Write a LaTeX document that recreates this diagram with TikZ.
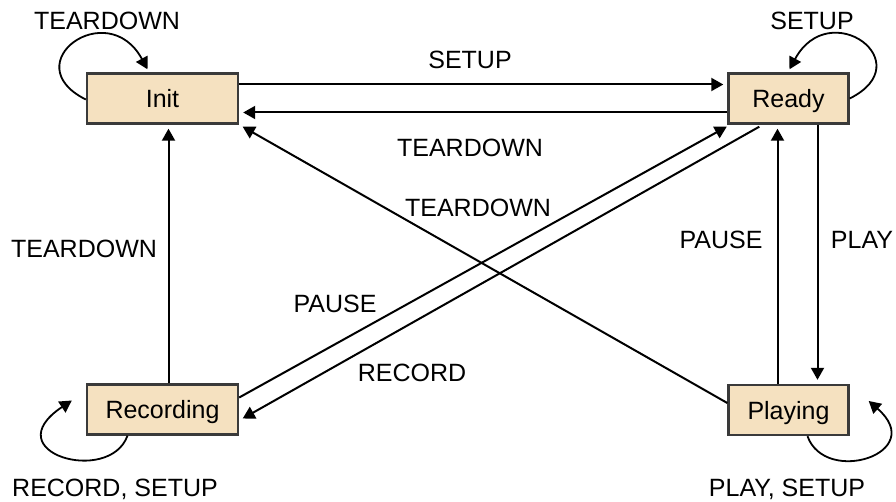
\documentclass[tikz,border=0pt]{standalone}
\usepackage{fontspec}
\setmainfont{Liberation Sans}
\usetikzlibrary{arrows.meta,calc}
\definecolor{boxfill}{HTML}{F5E1C0}
\definecolor{boxdraw}{HTML}{3A3A3A}
\begin{document}
\begin{tikzpicture}[x=0.5pt,y=-0.5pt,
  font=\fontsize{12.5}{14}\selectfont,
  state/.style={draw=boxdraw,fill=boxfill,line width=1.2pt,minimum height=25pt,inner sep=0pt,text depth=0pt,yshift=-1pt},
  wide/.style={state,minimum width=75.5pt},
  narrow/.style={state,minimum width=60pt},
  edge/.style={line width=1pt,-{Triangle[length=6pt,width=6.5pt]},shorten >=2pt},
  loopedge/.style={line width=0.9pt,-{Triangle[length=6pt,width=6.5pt]}},
  lbl/.style={inner sep=0pt}]
\useasboundingbox (0,0) rectangle (896,502);
\node[wide] (init) at (162.5,96.5) {Init};
\node[narrow] (ready) at (788.5,96.5) {Ready};
\node[wide] (rec) at (162.5,407.5) {Recording};
\node[narrow] (play) at (788.5,408) {Playing};
% horizontal
\draw[edge] ($(init.east)+(0,-14)$) -- ($(ready.west)+(0,-14)$);
\draw[edge] ($(ready.west)+(0,14)$) -- ($(init.east)+(0,14)$);
% verticals
\draw[edge] ($(rec.north)+(6,0)$) -- ($(init.south)+(6,0)$);
\draw[edge] ($(ready.south)+(29,0)$) -- ($(play.north)+(29,0)$);
\draw[edge] ($(play.north)+(-11,0)$) -- ($(ready.south)+(-11,0)$);
% diagonals
\draw[edge] ($(play.west)+(0,-7)$) -- (init.south east);
\draw[edge] ($(rec.east)+(0,-12)$) -- ($(ready.south west)+(3,0)$);
\draw[edge] ($(ready.south west)+(32,2)$) -- ($(rec.east)+(0,11)$);
% loops
\draw[loopedge] ($(init.west)+(0,1)$) .. controls +(-72,-36) and +(-40,-74) .. ($(init.north)+(-15,-3)$);
\draw[loopedge] ($(ready.east)+(0,0)$) .. controls +(72,-36) and +(40,-74) .. ($(ready.north)+(1,-3)$);
\draw[loopedge] ($(rec.south)+(-35,0)$) .. controls +(-18,50) and +(-78,52) .. ($(rec.west)+(-14,-9)$);
\draw[loopedge] ($(play.south)+(19,0)$) .. controls +(18,50) and +(60,52) .. ($(play.east)+(19,-9)$);
% labels
\node[lbl] (l1) at (470,60) {SETUP};
\node[lbl] (l2) at (470,148) {TEARDOWN};
\node[lbl] (l3) at (84,249) {TEARDOWN};
\node[lbl] (l4) at (478,208) {TEARDOWN};
\node[lbl] (l5) at (335,304) {PAUSE};
\node[lbl] (l6) at (412,373) {RECORD};
\node[lbl] (l7) at (862,240) {PLAY};
\node[lbl] (l8) at (721,240) {PAUSE};
\node[lbl] (l9) at (107,21) {TEARDOWN};
\node[lbl] (l10) at (812,21) {SETUP};
\node[lbl] (l11) at (115,489) {RECORD, SETUP};
\node[lbl] (l12) at (787,489) {PLAY, SETUP};
\end{tikzpicture}
\end{document}
